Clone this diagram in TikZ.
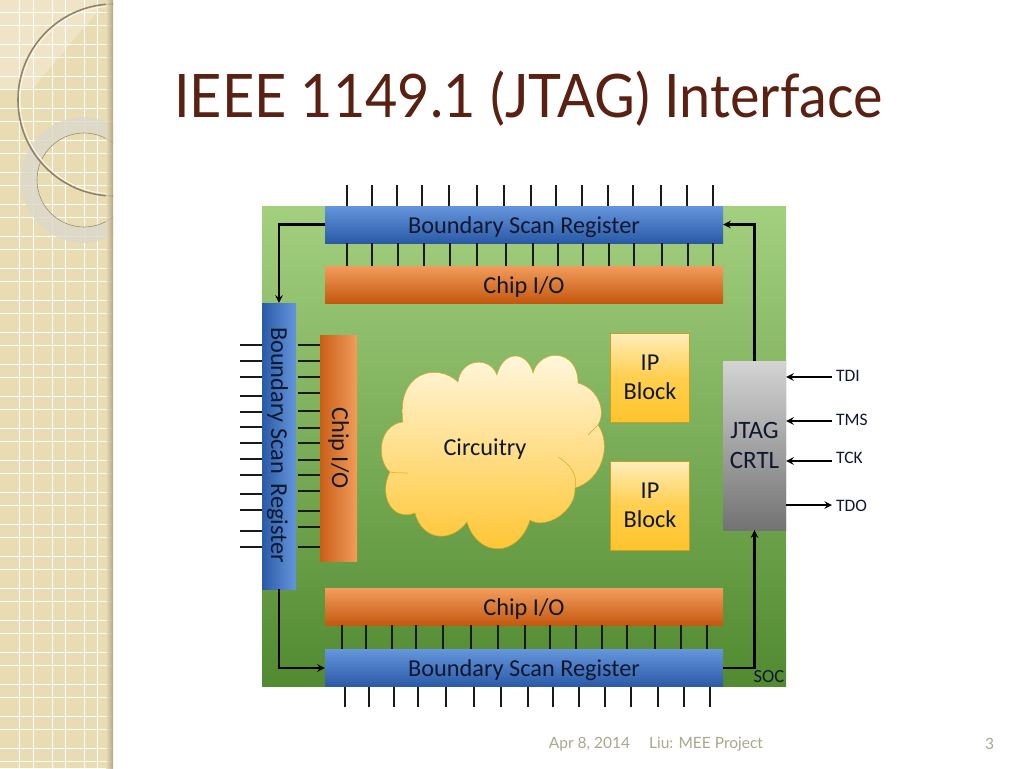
\documentclass[tikz,border=0pt]{standalone}
\usepackage{fontspec}
\setmainfont{Carlito}
\newfontfamily\gillfont{Lato}
\usetikzlibrary{positioning,arrows}

\definecolor{brownT}{HTML}{5A2113}
\definecolor{paper}{HTML}{EADCB2}
\definecolor{ringT}{HTML}{DDD9CB}
\definecolor{footT}{HTML}{A9A78F}
\definecolor{inkT}{HTML}{101830}
\definecolor{blue1}{HTML}{6596DC}
\definecolor{blue2}{HTML}{2A5AA6}
\definecolor{orange1}{HTML}{F29C5C}
\definecolor{orange2}{HTML}{C4580F}
\definecolor{gold1}{HTML}{FFC42D}
\definecolor{gold2}{HTML}{FFE28A}
\definecolor{soc1}{HTML}{A3D07F}
\definecolor{socm}{HTML}{6FAC54}
\definecolor{soc2}{HTML}{518A30}

\tikzset{
	bar/.style={inner sep=0pt,text=inkT,font=\fontsize{24.3}{29}\selectfont,align=center},
	hbar/.style={bar,minimum width=398pt,minimum height=37pt,text height=17pt,text depth=0pt},
	bluebar/.style={hbar,top color=blue1,bottom color=blue2},
	orangebar/.style={hbar,top color=orange1,bottom color=orange2},
	ipblock/.style={bar,minimum width=79pt,minimum height=89pt,top color=gold2!60!white,bottom color=gold1,middle color=gold1!65!gold2,draw=gold1!80!black,line width=0.3pt},
	tick/.style={line width=2pt,color=black!90},
	wire/.style={line width=2.3pt,->,>=stealth,color=black},
	pin/.style={inner sep=0pt,anchor=west,text=inkT,font=\fontsize{17.5}{20}\selectfont},
	foot/.style={inner sep=0pt,text=footT,font=\gillfont\fontsize{15.5}{18}\selectfont}
}

\begin{document}
\begin{tikzpicture}[x=1pt,y=-1pt]

\useasboundingbox (0,0) rectangle (1024,768);

\fill[white] (0,0) rectangle (1024,768);

\begin{scope}
\clip (0,0) rectangle (113,768);
\fill[paper] (0,0) rectangle (113,768);
\fill[white,opacity=0.25] (0,0) -- (97,0) -- (97,12) -- (33,88) -- (0,90) -- cycle;
\foreach \y in {0,...,23}{
	\draw[white,line width=0.9pt] (0,12+\y*32) -- (113,12+\y*32);
	\draw[white,line width=0.9pt] (0,25+\y*32) -- (113,25+\y*32);
}
\foreach \x in {19,33,52,65,84,97}
	\draw[white,line width=0.9pt] (\x,0) -- (\x,768);
\fill[ringT,opacity=0.88,even odd rule] (84,180) circle (63) (84,180) circle (47);
\draw[black!35!paper,line width=0.6pt] (84,180) circle (47);
\draw[black!40!paper,line width=1.6pt] (114,100) circle (96);
\draw[white!70!paper,line width=1pt] (114,100) circle (94);
\shade[left color=paper,right color=black!30!paper,opacity=0.8] (106,0) rectangle (113,768);
\end{scope}

\node[inner sep=0pt,anchor=west,xscale=0.93,text=brownT,font=\gillfont\fontsize{60}{70}\selectfont] (title) at (174,99) {IEEE 1149.1 (JTAG) Interface};

\node[inner sep=0pt,minimum width=524pt,minimum height=480pt,top color=soc1,middle color=socm,bottom color=soc2] (soc) at (524,446) {};

\node[bluebar] (bsrtop) at (524,224.5) {Boundary Scan Register};
\node[orangebar] (chiptop) at (524,284.5) {Chip I/O};
\node[orangebar] (chipbottom) at (524,607) {Chip I/O};
\node[bluebar] (bsrbottom) at (524,668) {Boundary Scan Register};

\node[bar,minimum width=34pt,minimum height=286pt,left color=blue2,right color=blue1] (bsrleft) at (279,446) {};
\node[bar,rotate=-90] (bsrlefttext) at (277.5,445) {Boundary Scan\, Register};
\node[bar,minimum width=37pt,minimum height=226pt,left color=orange2!90!orange1,right color=orange1] (chipleft) at (338.5,448) {};
\node[bar,rotate=-90] (chiplefttext) at (chipleft.center) {Chip I/O};

\node[ipblock] (ip1) at (650,377.5) {IP\\[0.5pt]Block};
\node[ipblock] (ip2) at (650,505.5) {IP\\[0.5pt]Block};

\node[bar,minimum width=63pt,minimum height=169pt,top color=black!17,bottom color=black!55,font=\fontsize{25}{30}\selectfont] (jtag) at (754.5,445.5) {JTAG\\CRTL};

\node[inner sep=0pt,text=inkT,font=\fontsize{18.5}{22}\selectfont] (soclabel) at (769,677) {SOC};

\path[top color=gold2!25!white,bottom color=gold1,draw=gold1!85!black,line width=0.5pt]
	(458,382) .. controls (461,358) and (490,356) .. (497,375)
	.. controls (503,350) and (527,350) .. (533,373)
	.. controls (540,348) and (578,348) .. (578,383)
	.. controls (597,388) and (607,410) .. (598,425)
	.. controls (612,445) and (602,480) .. (575,488)
	.. controls (576,512) and (545,530) .. (530,520)
	.. controls (518,558) and (478,558) .. (467,522)
	.. controls (450,544) and (422,540) .. (415,513)
	.. controls (392,522) and (378,495) .. (390,472)
	.. controls (376,460) and (378,425) .. (403,422)
	.. controls (396,372) and (437,362) .. (458,382) -- cycle;
\draw[gold1!85!black,line width=0.5pt] (558,457) .. controls (570,464) and (578,475) .. (575,488);
\draw[gold1!85!black,line width=0.5pt] (390,472) .. controls (396,473) and (402,473) .. (408,473);
\draw[gold1!85!black,line width=0.5pt] (598,425) -- (588,435);
\node[bar] (cloud) at (485,449) {Circuitry};

\foreach[count=\i] \x in {347,372,397,422,449,477,504,531,556,582,608,633,661,687,713}{
	\coordinate (t1-\i) at (\x,185);
	\draw[tick] (t1-\i) -- (t1-\i |- bsrtop.north);
}
\foreach[count=\i] \x in {347,372,398,424,450,477,506,533,558,583,609,634,662,688,713}{
	\coordinate (t2-\i) at (\x,243);
	\draw[tick] (t2-\i) -- (t2-\i |- chiptop.north);
}
\foreach[count=\i] \x in {342,366,392,416,443,471,498,525,550,576,602,627,655,681,707}{
	\coordinate (b1-\i) at (\x,625);
	\draw[tick] (b1-\i) -- (b1-\i |- bsrbottom.north);
}
\foreach[count=\i] \x in {345,369,394,418,446,474,501,528,553,579,605,631,658,684,710}{
	\coordinate (b2-\i) at (\x,707);
	\draw[tick] (b2-\i) -- (b2-\i |- bsrbottom.south);
}
\foreach[count=\i] \y in {345,361,377,396,412,427,443,459,475,494,510,531,547}{
	\coordinate (l1-\i) at (240,\y);
	\draw[tick] (l1-\i) -- (l1-\i -| bsrleft.west);
}
\foreach[count=\i] \y in {345,361,377,393,411,428,443,460,475,491,511,527,547}{
	\coordinate (l2-\i) at (298,\y);
	\draw[tick] (l2-\i) -- (l2-\i -| chipleft.west);
}

\draw[wire] (bsrtop.west) -| (bsrleft.north);
\draw[wire] (bsrleft.south) |- (bsrbottom.west);
\draw[wire] (jtag.north) |- (bsrtop.east);
\draw[wire] (bsrbottom.east) -| (jtag.south);

\foreach \name/\text/\y/\ly in {tdi/TDI/377/376,tms/TMS/421/420,tck/TCK/461/458}{
	\node[pin] (\name) at (836,\ly) {\text};
	\coordinate (\name-w) at (832,\y);
	\draw[wire] (\name-w) -- (\name-w -| jtag.east);
}
\node[pin] (tdo) at (836,506) {TDO};
\coordinate (tdo-w) at (832,505);
\draw[wire] (tdo-w -| jtag.east) -- (tdo-w);

\node[foot] (date) at (589.5,744) {Apr 8, 2014};
\node[foot] (project) at (706,744) {Liu: MEE Project};
\node[foot] (page) at (989.5,744) {3};

\end{tikzpicture}
\end{document}
